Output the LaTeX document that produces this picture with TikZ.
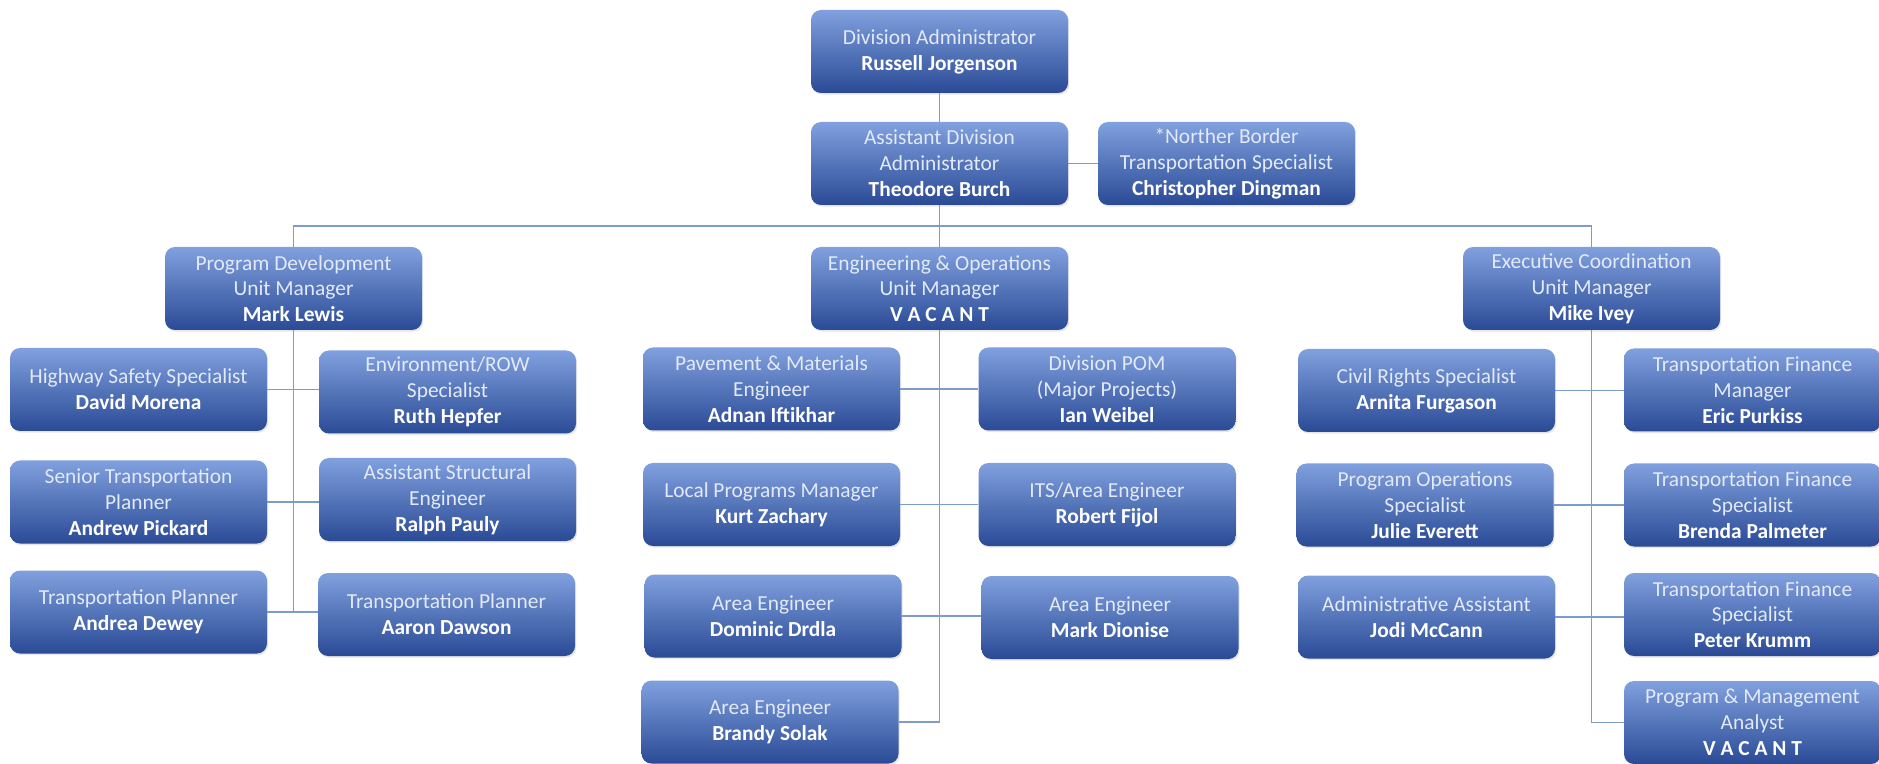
\documentclass[tikz,border=0pt]{standalone}
\usepackage{fontspec}
\setmainfont{Carlito}
\usetikzlibrary{shadows}

\definecolor{boxtop}{RGB}{128,160,222}
\definecolor{boxbot}{RGB}{42,74,150}
\definecolor{linkcol}{RGB}{125,155,205}
\definecolor{titlecol}{RGB}{226,233,247}
\newcommand{\boxfont}{\fontsize{10.7}{12.9}\selectfont}
\newcommand{\who}[1]{{\color{white}\bfseries #1}}

\begin{document}
\begin{tikzpicture}[x=0.5pt,y=-0.5pt,
  orgbox/.style={shade, top color=boxtop, bottom color=boxbot, rounded corners=5pt,
    minimum width=128.5pt, minimum height=41.5pt, inner sep=2pt, align=center,
    text=titlecol, font=\boxfont,
    drop shadow={opacity=0.2, shadow xshift=0.6pt, shadow yshift=-0.8pt}},
  link/.style={draw=linkcol, line width=0.7pt}]
\useasboundingbox (0,0) rectangle (1879,764);

% top
\node[orgbox] (DA) at (939.5,51.5) {Division Administrator\\\who{Russell Jorgenson}};
\node[orgbox] (ADA) at (939.5,163.5) {Assistant Division\\Administrator\\\who{Theodore Burch}};
\node[orgbox] (NB) at (1226.5,163.5) {*Norther Border\\Transportation Specialist\\\who{Christopher Dingman}};

% unit managers
\node[orgbox] (PD) at (293.5,288.5) {Program Development\\Unit Manager\\\who{Mark Lewis}};
\node[orgbox] (EO) at (939.5,288.5) {Engineering \& Operations\\Unit Manager\\\who{V A C A N T}};
\node[orgbox] (EC) at (1591.5,288.5) {Executive Coordination\\Unit Manager\\\who{Mike Ivey}};

% program development
\node[orgbox] (HS) at (138.5,389.5) {Highway Safety Specialist\\\who{David Morena}};
\node[orgbox] (ENV) at (447.5,392) {Environment/ROW\\Specialist\\\who{Ruth Hepfer}};
\node[orgbox] (STP) at (138.5,502) {Senior Transportation\\Planner\\\who{Andrew Pickard}};
\node[orgbox] (ASE) at (447.5,499.5) {Assistant Structural\\Engineer\\\who{Ralph Pauly}};
\node[orgbox] (TP1) at (138.5,612) {Transportation Planner\\\who{Andrea Dewey}};
\node[orgbox] (TP2) at (446.5,614.5) {Transportation Planner\\\who{Aaron Dawson}};

% engineering & operations
\node[orgbox] (PME) at (771.5,389) {Pavement \& Materials\\Engineer\\\who{Adnan Iftikhar}};
\node[orgbox] (POM) at (1107,389) {Division POM\\(Major Projects)\\\who{Ian Weibel}};
\node[orgbox] (LPM) at (771.5,504.5) {Local Programs Manager\\\who{Kurt Zachary}};
\node[orgbox] (ITS) at (1107,504.5) {ITS/Area Engineer\\\who{Robert Fijol}};
\node[orgbox] (AE1) at (773,616) {Area Engineer\\\who{Dominic Drdla}};
\node[orgbox] (AE2) at (1110,617.5) {Area Engineer\\\who{Mark Dionise}};
\node[orgbox] (AE3) at (770,722) {Area Engineer\\\who{Brandy Solak}};

% executive coordination
\node[orgbox] (CRS) at (1426.5,390.5) {Civil Rights Specialist\\\who{Arnita Furgason}};
\node[orgbox] (TFM) at (1752.5,390) {Transportation Finance\\Manager\\\who{Eric Purkiss}};
\node[orgbox] (POS) at (1425,505) {Program Operations\\Specialist\\\who{Julie Everett}};
\node[orgbox] (TFS1) at (1752.5,505) {Transportation Finance\\Specialist\\\who{Brenda Palmeter}};
\node[orgbox] (AA) at (1426.5,617) {Administrative Assistant\\\who{Jodi McCann}};
\node[orgbox] (TFS2) at (1752.5,614.5) {Transportation Finance\\Specialist\\\who{Peter Krumm}};
\node[orgbox] (PMA) at (1752.5,722.5) {Program \& Management\\Analyst\\\who{V A C A N T}};

\coordinate (bus) at (0,226);

\draw[link] (DA) -- (ADA);
\draw[link] (ADA.east) -- (ADA.east -| NB.west);
\draw[link] (ADA.south) -- (EO.north);
\draw[link] (PD.north) |- (EC.north |- bus) -- (EC.north);

\draw[link] (PD.south) -- (PD.south |- TP1.east);
\draw[link] (HS.east) -- (HS.east -| ENV.west);
\draw[link] (STP.east) -- (STP.east -| ASE.west);
\draw[link] (TP1.east) -- (TP1.east -| TP2.west);

\draw[link] (EO.south) -- (EO.south |- AE3.east);
\draw[link] (PME.east) -- (PME.east -| POM.west);
\draw[link] (LPM.east) -- (LPM.east -| ITS.west);
\draw[link] (AE1.east) -- (AE1.east -| AE2.west);
\draw[link] (AE3.east) -- (AE3.east -| EO.south);

\draw[link] (EC.south) -- (EC.south |- PMA.west);
\draw[link] (CRS.east) -- (CRS.east -| TFM.west);
\draw[link] (POS.east) -- (POS.east -| TFS1.west);
\draw[link] (AA.east) -- (AA.east -| TFS2.west);
\draw[link] (PMA.west) -- (PMA.west -| EC.south);
\end{tikzpicture}
\end{document}
